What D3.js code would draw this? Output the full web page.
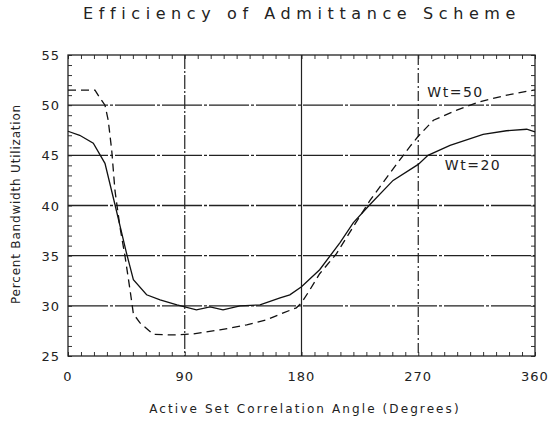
<!DOCTYPE html>
<html>
<head>
<meta charset="utf-8">
<script src="https://cdn.jsdelivr.net/npm/d3@7"></script>
<style>
  body { margin: 0; background: #fff; }
  text { font-family: "DejaVu Sans", sans-serif; fill: #222; }
</style>
</head>
<body>
<svg id="chart" width="553" height="423"></svg>
<script>
const xTicks = [0, 90, 180, 270, 360];
const yTicks = [25, 30, 35, 40, 45, 50, 55];

// Wt=20 (solid)
const wt20Angle = [0, 9, 19.5, 28.5, 36, 45, 50.4, 60.6, 71, 84, 99, 109.5, 119.5, 132.6, 148, 163.5, 171, 180, 194, 209.7, 220, 232.8, 250.6, 270, 277.5, 294.5, 320, 338, 353.6, 360];
const wt20Util = [47.4, 47.0, 46.2, 44.2, 40.2, 35.3, 32.6, 31.1, 30.6, 30.1, 29.6, 29.9, 29.6, 30.0, 30.1, 30.8, 31.1, 31.9, 33.6, 36.3, 38.3, 40.1, 42.5, 44.1, 45.0, 46.0, 47.1, 47.45, 47.6, 47.35];

// Wt=50 (dashed)
const wt50Angle = [0, 20.8, 24.7, 28.5, 31, 33.7, 36.2, 40, 44, 47.8, 50.4, 55.5, 65.8, 81, 96.6, 117, 137.8, 153, 166, 176, 180, 186, 194, 207, 220, 232.8, 248, 263.7, 270, 281.7, 299.7, 317.6, 338.3, 358.8, 360];
const wt50Util = [51.5, 51.5, 50.7, 50.0, 48.5, 45.5, 41.5, 37.9, 34.9, 31.6, 29.2, 28.3, 27.15, 27.1, 27.2, 27.6, 28.1, 28.6, 29.3, 29.8, 30.3, 31.5, 33.2, 35.2, 37.9, 40.5, 43.2, 45.9, 46.9, 48.5, 49.5, 50.35, 51.0, 51.5, 51.5];

const margin = { top: 55, right: 18, bottom: 67, left: 68 };
const width = 553 - margin.left - margin.right;
const height = 423 - margin.top - margin.bottom;

const svg = d3.select("#chart");
const chart = svg.append("g").attr("transform", `translate(${margin.left},${margin.top})`);

const x = d3.scaleLinear().domain([0, 360]).range([0, width]);
const y = d3.scaleLinear().domain([25, 55]).range([height, 0]);

// minor ticks, inward
chart.append("g").attr("transform", `translate(0,${height})`)
  .call(d3.axisBottom(x).tickValues(d3.range(0, 361, 10)).tickSize(-4).tickFormat(""));
chart.append("g")
  .call(d3.axisTop(x).tickValues(d3.range(0, 361, 10)).tickSize(-4).tickFormat(""));
chart.append("g")
  .call(d3.axisLeft(y).tickValues(d3.range(25, 56, 1)).tickSize(-4).tickFormat(""));
chart.append("g").attr("transform", `translate(${width},0)`)
  .call(d3.axisRight(y).tickValues(d3.range(25, 56, 1)).tickSize(-4).tickFormat(""));
chart.selectAll(".domain").remove();
chart.selectAll(".tick line").attr("stroke", "#333").attr("stroke-width", 1);

// grid
const vDash = { 90: "14,2,2,2", 180: null, 270: "10,3,2,3" };
chart.append("g").selectAll("line")
  .data(xTicks.slice(1, -1))
  .join("line")
  .attr("x1", (d) => x(d)).attr("x2", (d) => x(d))
  .attr("y1", 0).attr("y2", height)
  .attr("stroke", "#222").attr("stroke-width", 1.2)
  .attr("stroke-dasharray", (d) => vDash[d]);
chart.append("g").selectAll("line")
  .data(yTicks.slice(1, -1))
  .join("line")
  .attr("x1", 0).attr("x2", width)
  .attr("y1", (d) => y(d)).attr("y2", (d) => y(d))
  .attr("stroke", "#222").attr("stroke-width", 1.4)
  .attr("stroke-dasharray", "40,2,3,2");

// frame
chart.append("rect")
  .attr("width", width).attr("height", height)
  .attr("fill", "none").attr("stroke", "#222").attr("stroke-width", 1.3);

// tick labels
chart.append("g").selectAll("text")
  .data(xTicks).join("text")
  .attr("x", (d) => x(d)).attr("y", height + 25)
  .attr("text-anchor", "middle")
  .style("font-size", "13px").style("letter-spacing", "1px")
  .text((d) => d);
chart.append("g").selectAll("text")
  .data(yTicks).join("text")
  .attr("x", -8).attr("y", (d) => y(d) + 5)
  .attr("text-anchor", "end")
  .style("font-size", "13px").style("letter-spacing", "1px")
  .text((d) => d);

// series
const line = d3.line().x((d) => x(d[0])).y((d) => y(d[1]));
chart.append("path")
  .datum(d3.zip(wt20Angle, wt20Util))
  .attr("d", line)
  .attr("fill", "none").attr("stroke", "#111").attr("stroke-width", 1.3);
chart.append("path")
  .datum(d3.zip(wt50Angle, wt50Util))
  .attr("d", line)
  .attr("fill", "none").attr("stroke", "#111").attr("stroke-width", 1.3)
  .attr("stroke-dasharray", "8,5");

chart.append("text")
  .attr("x", x(277)).attr("y", y(50.8))
  .style("font-size", "14px").style("letter-spacing", "1.5px")
  .text("Wt=50");
chart.append("text")
  .attr("x", x(290.5)).attr("y", y(43.5))
  .style("font-size", "14px").style("letter-spacing", "1.5px")
  .text("Wt=20");

// titles
svg.append("text")
  .attr("x", 302).attr("y", 19)
  .attr("text-anchor", "middle")
  .style("font-size", "16px").style("letter-spacing", "5.6px")
  .text("Efficiency of Admittance Scheme");
svg.append("text")
  .attr("x", 305).attr("y", 413)
  .attr("text-anchor", "middle")
  .style("font-size", "12px").style("letter-spacing", "2.1px")
  .text("Active Set Correlation Angle (Degrees)");
svg.append("text")
  .attr("transform", "translate(20,204) rotate(-90)")
  .attr("text-anchor", "middle")
  .style("font-size", "12px").style("letter-spacing", "0.8px")
  .text("Percent Bandwidth Utilization");
</script>
</body>
</html>
